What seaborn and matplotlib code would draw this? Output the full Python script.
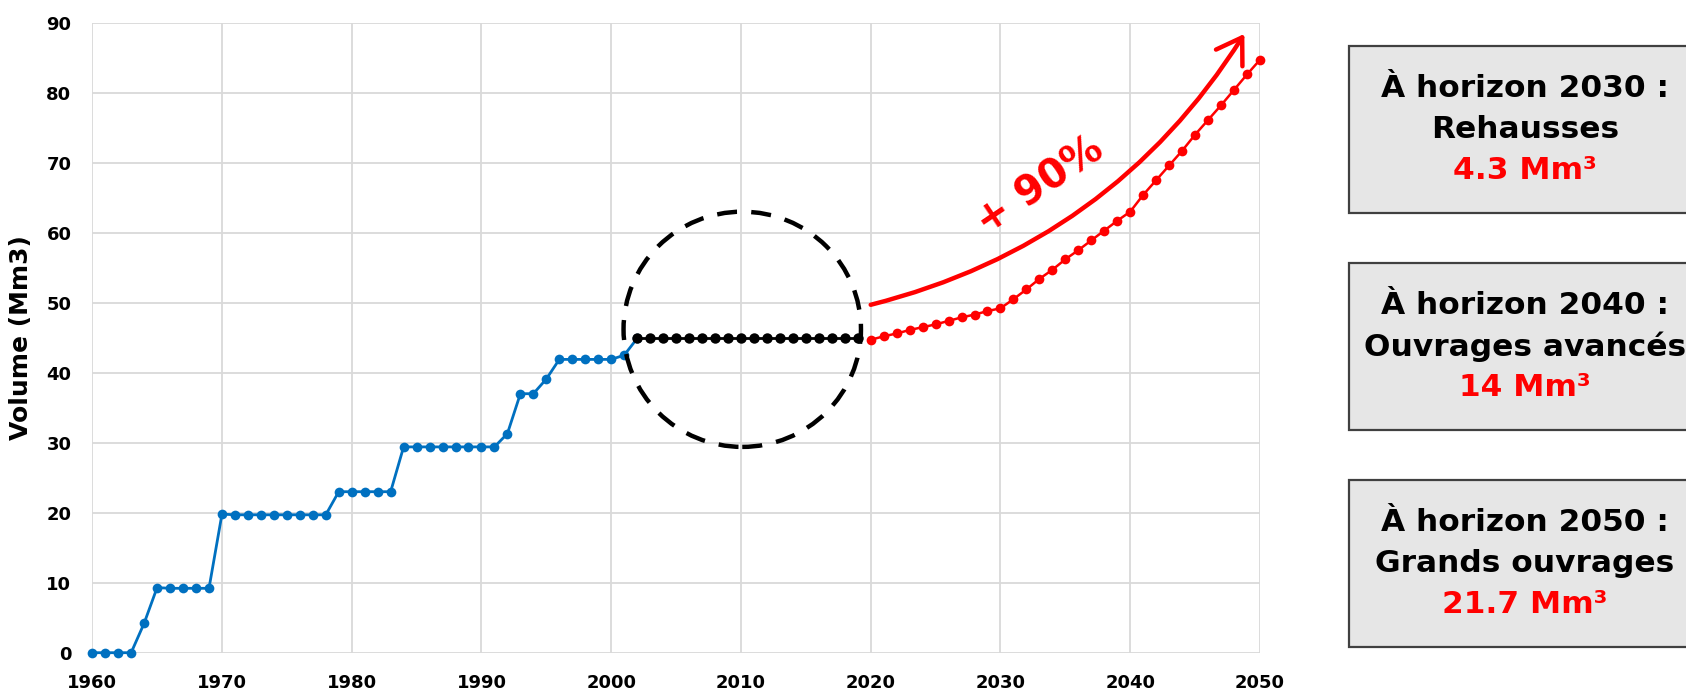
import numpy as np
import pandas as pd
import matplotlib
matplotlib.use('Agg')
import matplotlib.pyplot as plt
from matplotlib.patches import Ellipse, Rectangle
import seaborn as sns

# Historical volumes (blue), plateau (black), projection (red)
hist_years = list(range(1960, 2003))
hist_volume = [0, 0, 0, 0, 4.2, 9.3, 9.2, 9.2, 9.2, 9.2,
               19.8, 19.7, 19.7, 19.7, 19.7, 19.7, 19.7, 19.7, 19.7,
               23.0, 23.0, 23.0, 23.0, 23.0,
               29.4, 29.4, 29.4, 29.4, 29.4, 29.4, 29.4, 29.4,
               31.3, 37.0, 37.0, 39.1, 41.9, 41.9, 41.9, 41.9, 41.9, 42.5,
               44.9]

plateau_years = list(range(2002, 2020))
plateau_volume = [44.9] * 18

proj_years = list(range(2020, 2051))
proj_volume = [44.7, 45.2, 45.6, 46.1, 46.5, 46.9, 47.4, 47.9, 48.3, 48.8,
               49.2, 50.5, 51.9, 53.4, 54.7, 56.2, 57.5, 58.9, 60.3, 61.7,
               63.0, 65.4, 67.5, 69.6, 71.7, 74.0, 76.1, 78.2, 80.4, 82.6,
               84.7]

x_ticks = list(range(1960, 2051, 10))
y_ticks = list(range(0, 91, 10))

box_titles = ['À horizon 2030 :', 'À horizon 2040 :', 'À horizon 2050 :']
box_works = ['Rehausses', 'Ouvrages avancés', 'Grands ouvrages']
box_volumes = ['4.3', '14', '21.7']

sns.set_style('white')
plt.rcParams['font.family'] = ['DejaVu Sans']
plt.rcParams['font.weight'] = 'bold'
plt.rcParams['text.color'] = 'black'
plt.rcParams['axes.labelcolor'] = 'black'
plt.rcParams['xtick.color'] = 'black'
plt.rcParams['ytick.color'] = 'black'

fig = plt.figure(figsize=(16.86, 6.92), dpi=100)
ax = fig.add_axes([0.0547, 0.0568, 0.6926, 0.9104])

df_hist = pd.DataFrame({'year': hist_years, 'volume': hist_volume})
df_plat = pd.DataFrame({'year': plateau_years, 'volume': plateau_volume})
df_proj = pd.DataFrame({'year': proj_years, 'volume': proj_volume})

sns.lineplot(data=df_hist, x='year', y='volume', ax=ax, color='#0070C0',
             marker='o', markersize=7, markeredgewidth=0, linewidth=2.0,
             clip_on=False, zorder=3)
sns.lineplot(data=df_plat, x='year', y='volume', ax=ax, color='black',
             marker='o', markersize=7.5, markeredgewidth=0, linewidth=2.0,
             clip_on=False, zorder=4)
sns.lineplot(data=df_proj, x='year', y='volume', ax=ax, color='#FF0000',
             marker='o', markersize=7, markeredgewidth=0, linewidth=1.8,
             clip_on=False, zorder=3)

# dashed circle around the plateau
ax.add_patch(Ellipse((2010.1, 46.2), 18.3, 33.6, fill=False, edgecolor='black',
                     linewidth=3.2, linestyle=(0, (4.5, 3.2)), zorder=5,
                     clip_on=False))

# curved growth arrow
ax.annotate('', xy=(2048.8, 88.4), xytext=(2020, 49.7),
            arrowprops=dict(arrowstyle='->,head_length=0.7,head_width=0.45',
                            color='#FF0000', lw=3.2, mutation_scale=25,
                            connectionstyle='arc3,rad=0.2',
                            shrinkA=0, shrinkB=0),
            annotation_clip=False)
ax.text(2033.05, 66.6, '+ 90%', rotation=34, color='#FF0000', fontsize=29,
        fontweight='bold', ha='center', va='center', rotation_mode='anchor')

ax.set_xlim(1960, 2050)
ax.set_ylim(0, 90)
ax.set_xticks(x_ticks)
ax.set_yticks(y_ticks)
ax.grid(True, color='#d9d9d9', linewidth=1.3)
ax.set_axisbelow(True)
for s in ax.spines.values():
    s.set_visible(False)
ax.tick_params(axis='both', length=0, labelsize=13, pad=15, labelcolor='black')
for lab in ax.get_xticklabels() + ax.get_yticklabels():
    lab.set_fontweight('bold')
ax.set_xlabel('')
ax.set_ylabel('Volume (Mm3)', fontsize=18, fontweight='bold', color='black')
ax.yaxis.set_label_coords(-0.0508, 0.5)

# text boxes on the right
box_tops = [45.7, 263.3, 480.3]
box_h = 167
for top, title, work, vol in zip(box_tops, box_titles, box_works, box_volumes):
    fig.add_artist(Rectangle((1349 / 1686, 1 - (top + box_h) / 692), 352 / 1686,
                             box_h / 692, transform=fig.transFigure,
                             facecolor='#e6e6e6', edgecolor='#404040',
                             linewidth=1.6, clip_on=False))
    cy = top + box_h / 2
    xc = 1525 / 1686
    fig.text(xc, 1 - (cy - 41) / 692, title, ha='center', va='center',
             fontsize=22.5, fontweight='bold', color='black')
    fig.text(xc, 1 - cy / 692, work, ha='center', va='center',
             fontsize=22.5, fontweight='bold', color='black')
    fig.text(xc, 1 - (cy + 41) / 692, f'{vol} Mm³', ha='center', va='center',
             fontsize=22.5, fontweight='bold', color='#FF0000')

fig.savefig('out.png', dpi=100)
